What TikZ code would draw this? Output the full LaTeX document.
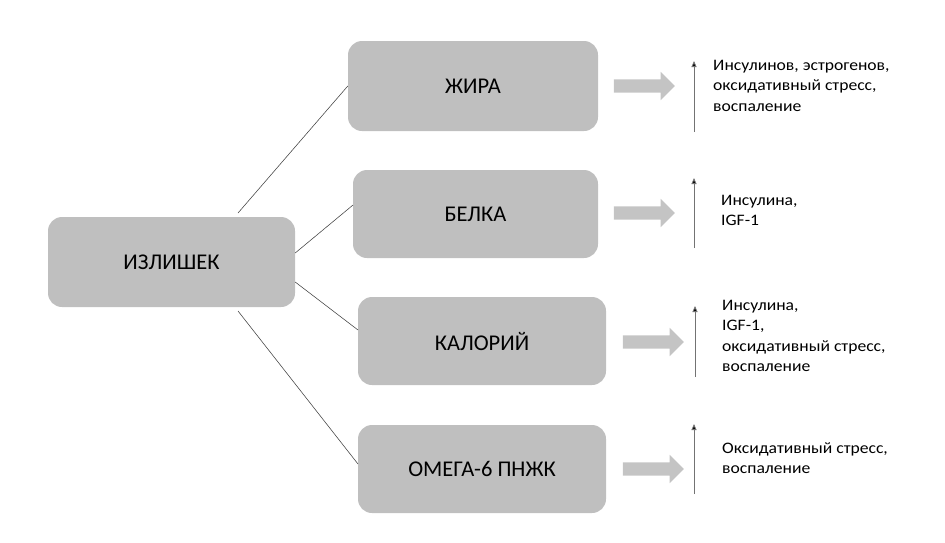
\documentclass[tikz,border=0pt]{standalone}
\usepackage{fontspec}
\setmainfont{Carlito}
\newfontfamily\lblfont[FakeStretch=1.1]{Carlito}
\usetikzlibrary{shapes.arrows,arrows.meta}
\definecolor{boxgray}{HTML}{BFBFBF}
\definecolor{arrgray}{HTML}{C4C4C4}
\tikzset{
  gbox/.style={fill=boxgray, rounded corners=14pt, font=\fontsize{22.5}{26}\selectfont, inner sep=0pt},
  fat/.style={fill=arrgray, single arrow, draw=none, minimum height=61pt, minimum width=28pt, single arrow head extend=7.5pt, inner xsep=0pt, inner ysep=6.5pt, single arrow tip angle=90},
  conn/.style={draw=black!75, line width=0.55pt},
  up/.style={draw=black!55, line width=0.9pt, -{Triangle[length=6pt,width=5pt,fill=black]}},
  lbl/.style={anchor=base west, align=left, font=\lblfont\fontsize{16}{20.5}\selectfont, inner sep=0pt}
}
\begin{document}
\begin{tikzpicture}[x=1pt,y=-1pt]
\useasboundingbox (0,0) rectangle (945,542);
% boxes
\node[gbox, minimum width=247pt, minimum height=90pt] (izl) at (171.5,262) {ИЗЛИШЕК};
\node[gbox, minimum width=250pt, minimum height=90pt] (zhir) at (473,86) {ЖИРА};
\node[gbox, minimum width=245pt, minimum height=88pt] (belk) at (475.5,214) {БЕЛКА};
\node[gbox, minimum width=248pt, minimum height=88pt] (kal) at (482,341) {КАЛОРИЙ};
\node[gbox, minimum width=248pt, minimum height=88pt] (omeg) at (482,469) {ОМЕГА-6 ПНЖК};
% connectors
\coordinate (c1) at (238,213);
\coordinate (c4) at (238,311);
\draw[conn] (c1) -- (zhir.west);
\draw[conn] (izl.east |- 0,253) -- (353,205);
\draw[conn] (izl.east |- 0,282) -- (358,330);
\draw[conn] (c4) -- (358,464);
% fat arrows
\node[fat] (f1) at (641,86) {};
\node[fat] (f2) at (641,213) {};
\node[fat] (f3) at (650,342) {};
\node[fat] (f4) at (650,469) {};
% up arrows
\coordinate (u1a) at (694,132); \coordinate (u1b) at (694,61);
\coordinate (u2a) at (694,248); \coordinate (u2b) at (694,178);
\coordinate (u3a) at (695,377); \coordinate (u3b) at (695,306);
\coordinate (u4a) at (694,494); \coordinate (u4b) at (694,424);
\draw[up] (u1a) -- (u1b);
\draw[up] (u2a) -- (u2b);
\draw[up] (u3a) -- (u3b);
\draw[up] (u4a) -- (u4b);
% labels (anchored at the baseline of the last line)
\node[lbl] (t1) at (713,111) {Инсулинов, эстрогенов,\\оксидативный стресс,\\воспаление};
\node[lbl] (t2) at (721,225.5) {Инсулина,\\IGF-1};
\node[lbl] (t3) at (722,371.5) {Инсулина,\\IGF-1,\\оксидативный стресс,\\воспаление};
\node[lbl] (t4) at (722,473.5) {Оксидативный стресс,\\воспаление};
\end{tikzpicture}
\end{document}
